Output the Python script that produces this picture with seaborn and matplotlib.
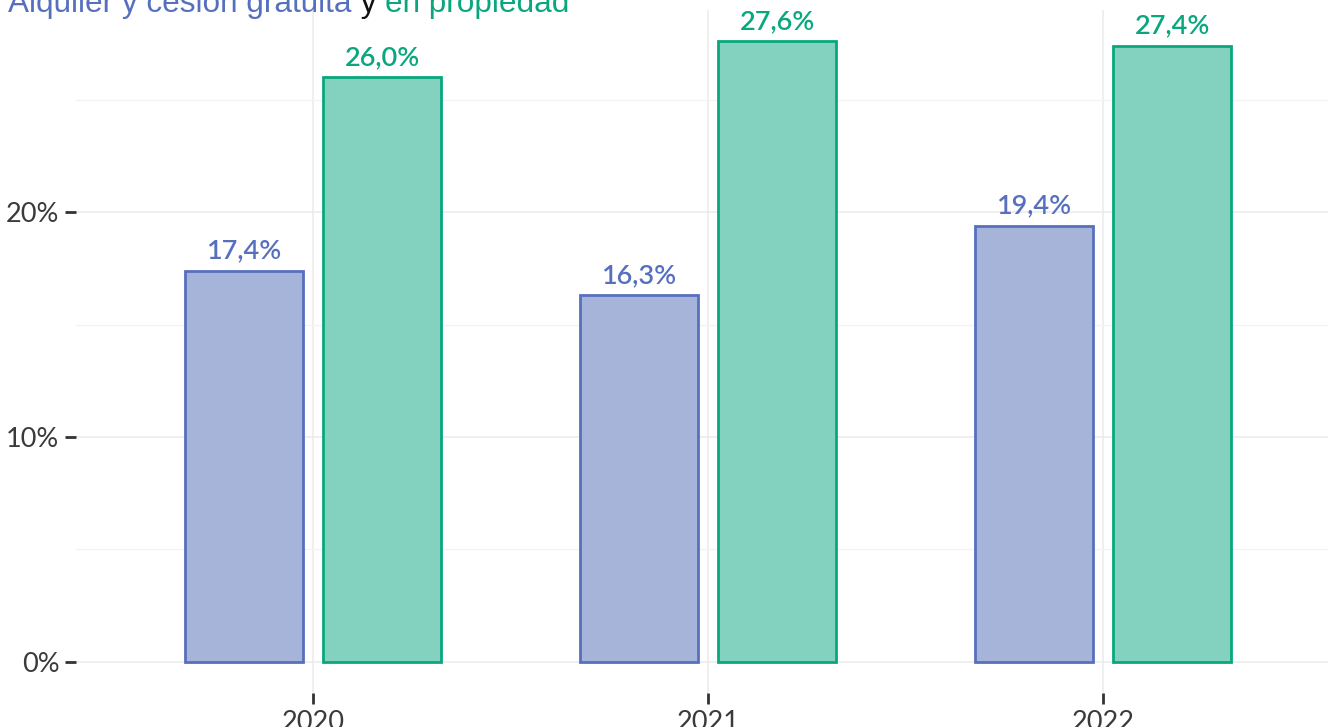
import matplotlib
matplotlib.use("Agg")
import matplotlib.pyplot as plt
import seaborn as sns
import pandas as pd
from matplotlib.ticker import FixedLocator, FuncFormatter

# Share of households by tenure regime, per year
years = ["2020", "2021", "2022"]
tenures = ["Alquiler y cesión gratuita", "En propiedad"]
rent_values = [17.4, 16.3, 19.4]
owned_values = [26.0, 27.6, 27.4]

edge_colors = ["#5670BE", "#0AA77F"]
fill_colors = ["#A7B4D9", "#82D2BF"]

df = pd.DataFrame({
    "year": years * 2,
    "tenure": [tenures[0]] * 3 + [tenures[1]] * 3,
    "value": rent_values + owned_values,
})

sns.set_theme(style="white")
plt.rcParams["font.family"] = ["Lato", "DejaVu Sans"]

fig = plt.figure(figsize=(13.28, 7.27), dpi=100)
ax = fig.add_axes([76 / 1328, 34 / 727, (1340 - 76) / 1328, (693 - 10) / 727])

sns.barplot(data=df, x="year", y="value", hue="tenure", order=years,
            hue_order=tenures, palette=fill_colors, saturation=1,
            width=0.7, gap=0.143, linewidth=2, legend=False, ax=ax, zorder=3)

for cont, ec in zip(ax.containers, edge_colors):
    for bar in cont:
        bar.set_edgecolor(ec)
        bar.set_linewidth(2)
    labels = [f"{b.get_height():.1f}".replace(".", ",") + "%" for b in cont]
    ax.bar_label(cont, labels=labels, padding=5, color=ec, fontsize=19.5,
                 fontweight="semibold")

ax.set_xlim(-0.6, 2.6)
ax.set_ylim(-1.38, 28.98)

ax.yaxis.set_major_locator(FixedLocator([0, 10, 20]))
ax.yaxis.set_minor_locator(FixedLocator([5, 15, 25]))
ax.yaxis.set_major_formatter(FuncFormatter(lambda v, p: f"{v:.0f}%"))

ax.grid(True, which="major", axis="both", color="#EBEBEB", linewidth=1.1, zorder=0)
ax.grid(True, which="minor", axis="y", color="#F2F2F2", linewidth=0.9, zorder=0)
ax.set_axisbelow(True)

ax.tick_params(axis="both", which="major", bottom=True, left=True, length=8,
               width=2, color="#333333", labelsize=19.5, labelcolor="#3A3A3A", pad=4)
ax.tick_params(axis="y", which="minor", left=False, length=0)
for lab in ax.get_xticklabels() + ax.get_yticklabels():
    lab.set_fontweight("normal")

for s in ax.spines.values():
    s.set_visible(False)
ax.set_xlabel("")
ax.set_ylabel("")

# Coloured title, drawn piece by piece
parts = [("Alquiler y cesión gratuita", edge_colors[0]),
         (" y ", "#111111"),
         ("en propiedad", edge_colors[1])]
fig.canvas.draw()
renderer = fig.canvas.get_renderer()
x = 8 / 1328
y = (727 - 12) / 727
for txt, col in parts:
    t = fig.text(x, y, txt, color=col, fontsize=22.7, va="baseline", ha="left",
                 family=["Liberation Sans", "DejaVu Sans"])
    bb = t.get_window_extent(renderer=renderer)
    x = bb.x1 / fig.bbox.width

fig.savefig("out.png", dpi=100)
